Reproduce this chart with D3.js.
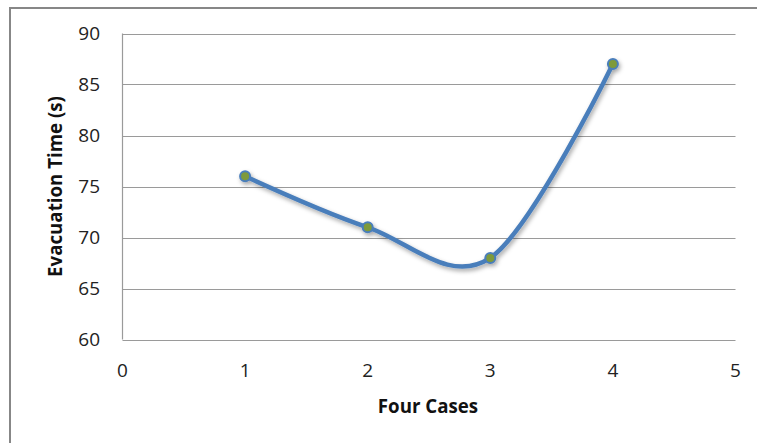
<!DOCTYPE html>
<html><head><meta charset="utf-8">
<script src="https://cdn.jsdelivr.net/npm/d3@7"></script>
<style>body{margin:0;background:#fff;overflow:hidden}svg{display:block}</style>
</head><body>
<script>
const cases = [1, 2, 3, 4];
const times = [76, 71, 68, 87];
const xTicks = [0, 1, 2, 3, 4, 5];
const yTicks = [60, 65, 70, 75, 80, 85, 90];

const W = 757, H = 443;
const svg = d3.select("body").append("svg").attr("width", W).attr("height", H);
const defs = svg.append("defs");
const f = defs.append("filter").attr("id","sh").attr("x","-10%").attr("y","-10%").attr("width","130%").attr("height","130%");
f.append("feDropShadow").attr("dx",1.5).attr("dy",2.5).attr("stdDeviation",2).attr("flood-color","#000").attr("flood-opacity",0.35);

svg.append("rect").attr("x",10).attr("y",8).attr("width",760).attr("height",460)
  .attr("fill","#fff").attr("stroke","#878787").attr("stroke-width",2);

const x = d3.scaleLinear().domain([0,5]).range([122.5,735.5]);
const y = d3.scaleLinear().domain([60,90]).range([339.5,33.5]);
const font = "'Open Sans', 'DejaVu Sans', sans-serif";

const g = svg.append("g");
g.selectAll("line.grid").data(yTicks).enter().append("line")
  .attr("x1",x(0)).attr("x2",x(5)).attr("y1",d=>Math.round(y(d))+0.5).attr("y2",d=>Math.round(y(d))+0.5)
  .attr("stroke","#9a9a9a").attr("stroke-width",1.2);
g.append("line").attr("x1",x(0)).attr("x2",x(0)).attr("y1",y(90)).attr("y2",y(60))
  .attr("stroke","#9a9a9a").attr("stroke-width",1.2);

g.selectAll("text.yt").data(yTicks).enter().append("text")
  .attr("x",100).attr("y",d=>y(d)).attr("dy","0.36em").attr("text-anchor","end")
  .attr("font-family",font).attr("font-size",19).attr("fill","#222").text(d=>d);
g.selectAll("text.xt").data(xTicks).enter().append("text")
  .attr("x",d=>x(d)).attr("y",370).attr("dy","0.36em").attr("text-anchor","middle")
  .attr("font-family",font).attr("font-size",19).attr("fill","#222").text(d=>d);

svg.append("text").attr("transform","translate(55,186.5) rotate(-90)").attr("text-anchor","middle")
  .attr("dy","0.36em").attr("font-family",font).attr("font-size",18.7).attr("font-weight","bold").attr("fill","#111")
  .text("Evacuation Time (s)");
svg.append("text").attr("x",428).attr("y",406).attr("text-anchor","middle").attr("dy","0.36em")
  .attr("font-family",font).attr("font-size",18.7).attr("font-weight","bold").attr("fill","#111").text("Four Cases");

const pts = cases.map((c,i)=>[c,times[i]]);
const line = d3.line().x(d=>x(d[0])).y(d=>y(d[1])).curve(d3.curveCatmullRom.alpha(0));
const sg = svg.append("g").attr("filter","url(#sh)");
sg.append("path").attr("d",line(pts)).attr("fill","none").attr("stroke","#4a7ebb").attr("stroke-width",4.5)
  .attr("stroke-linecap","round").attr("stroke-linejoin","round");
sg.selectAll("circle").data(pts).enter().append("circle")
  .attr("cx",d=>x(d[0])).attr("cy",d=>y(d[1])).attr("r",5)
  .attr("fill","#7e9a3a").attr("stroke","#4a7ebb").attr("stroke-width",2);
</script>
</body></html>
